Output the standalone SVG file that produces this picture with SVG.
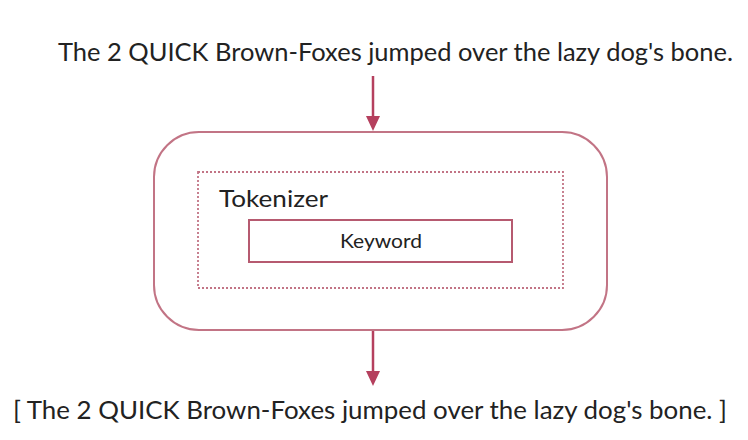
<svg xmlns="http://www.w3.org/2000/svg" width="748" height="440" viewBox="0 0 748 440">
<style>
text{font-family:Lato,"Open Sans","Liberation Sans",sans-serif;fill:#222}
.big{font-size:25px}
.conn{stroke:#b5405e;stroke-width:2.5;fill:none}
</style>
<rect width="748" height="440" fill="#fff"/>
<g id="input"><text class="big" x="58" y="61" textLength="675" lengthAdjust="spacingAndGlyphs">The 2 QUICK Brown-Foxes jumped over the lazy dog's bone.</text></g>
<g id="analyzer"><rect x="154" y="132" width="453" height="198" rx="45" ry="45" fill="none" stroke="#c27485" stroke-width="2"/></g>
<g id="tokenizer"><rect x="198" y="172" width="365" height="116" fill="none" stroke="#c27485" stroke-width="1.8" stroke-dasharray="2,2"/>
<text x="219" y="207" font-size="24" textLength="109" lengthAdjust="spacingAndGlyphs">Tokenizer</text></g>
<g id="keyword"><rect x="249" y="220" width="263" height="42" fill="none" stroke="#b65a70" stroke-width="2"/>
<text x="340" y="248" font-size="18.5" textLength="82" lengthAdjust="spacingAndGlyphs">Keyword</text></g>
<g id="output"><text class="big" x="13" y="419" textLength="714" lengthAdjust="spacingAndGlyphs">[ The 2 QUICK Brown-Foxes jumped over the lazy dog's bone. ]</text></g>
<g id="connectors">
<path class="conn" d="M373,76 V117" />
<path d="M366,116 L380,116 L373,131 z" fill="#b5405e"/>
<path class="conn" d="M373,331 V372" />
<path d="M366,371 L380,371 L373,386 z" fill="#b5405e"/>
</g>
</svg>
